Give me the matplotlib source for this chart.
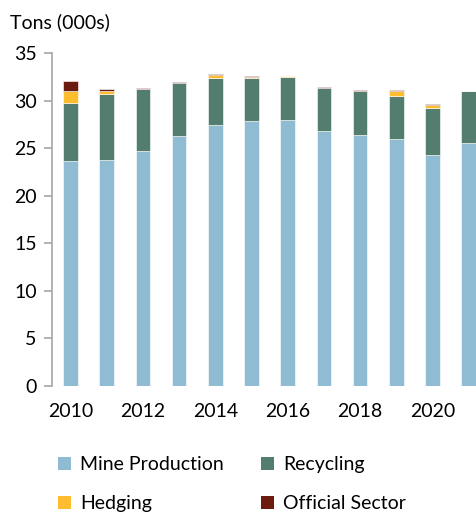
import numpy as np
import matplotlib
matplotlib.use("Agg")
import matplotlib.pyplot as plt
from matplotlib.patches import Patch

plt.rcParams['font.family'] = ['Lato', 'DejaVu Sans']

years = [2010, 2011, 2012, 2013, 2014, 2015, 2016, 2017, 2018, 2019, 2020, 2021]
mine = [23.6, 23.7, 24.7, 26.25, 27.4, 27.85, 27.95, 26.8, 26.4, 25.95, 24.25, 25.55]
recycling = [6.1, 7.0, 6.5, 5.6, 5.0, 4.55, 4.53, 4.55, 4.6, 4.55, 5.0, 5.4]
hedging = [1.35, 0.3, 0.0, 0.0, 0.3, 0.1, 0.05, 0.0, 0.0, 0.5, 0.3, 0.0]
official = [0.95, 0.2, 0.1, 0.1, 0.1, 0.1, 0.07, 0.08, 0.1, 0.1, 0.1, 0.05]

labels = ['Mine Production', 'Recycling', 'Hedging', 'Official Sector']
colors = ['#8fbbd3', '#537e6f', '#fdbd2e', '#6b1c0f']

fig = plt.figure(figsize=(4.77, 5.14), dpi=100)
ax = fig.add_axes([0.109, 0.249, 0.891, 0.648])

x = np.array(years)
bottom = np.zeros(len(years))
for vals, c in zip([mine, recycling, hedging, official], colors):
    ax.bar(x, vals, width=0.4, bottom=bottom, color=c, edgecolor='#ffffff', linewidth=0.4)
    bottom += np.array(vals)

ax.set_ylim(0, 35)
ax.set_xlim(2009.49, 2021.23)
ax.set_yticks(range(0, 36, 5))
ax.set_xticks(range(2010, 2021, 2))
for s in ['top', 'right', 'bottom']:
    ax.spines[s].set_visible(False)
ax.spines['left'].set_color('#a6a6a6')
ax.spines['left'].set_linewidth(1.2)
ax.tick_params(axis='y', colors='#a6a6a6', length=6, width=1.2, labelcolor='black', labelsize=14, pad=5)
ax.tick_params(axis='x', length=0, labelsize=14, pad=12)

fig.text(0.021, 0.957, 'Tons (000s)', fontsize=14, va='center', ha='left')

# legend fills by column, so reorder to get row-wise layout
order = [0, 2, 1, 3]
handles = [Patch(facecolor=colors[i], edgecolor='none') for i in order]
fig.legend(handles, [labels[i] for i in order], loc='center left', bbox_to_anchor=(0.085, 0.058), ncol=2,
           frameon=False, fontsize=14, handlelength=0.65, handleheight=0.65,
           handletextpad=0.5, columnspacing=1.9, labelspacing=1.15)

fig.savefig('out.png', dpi=100)
